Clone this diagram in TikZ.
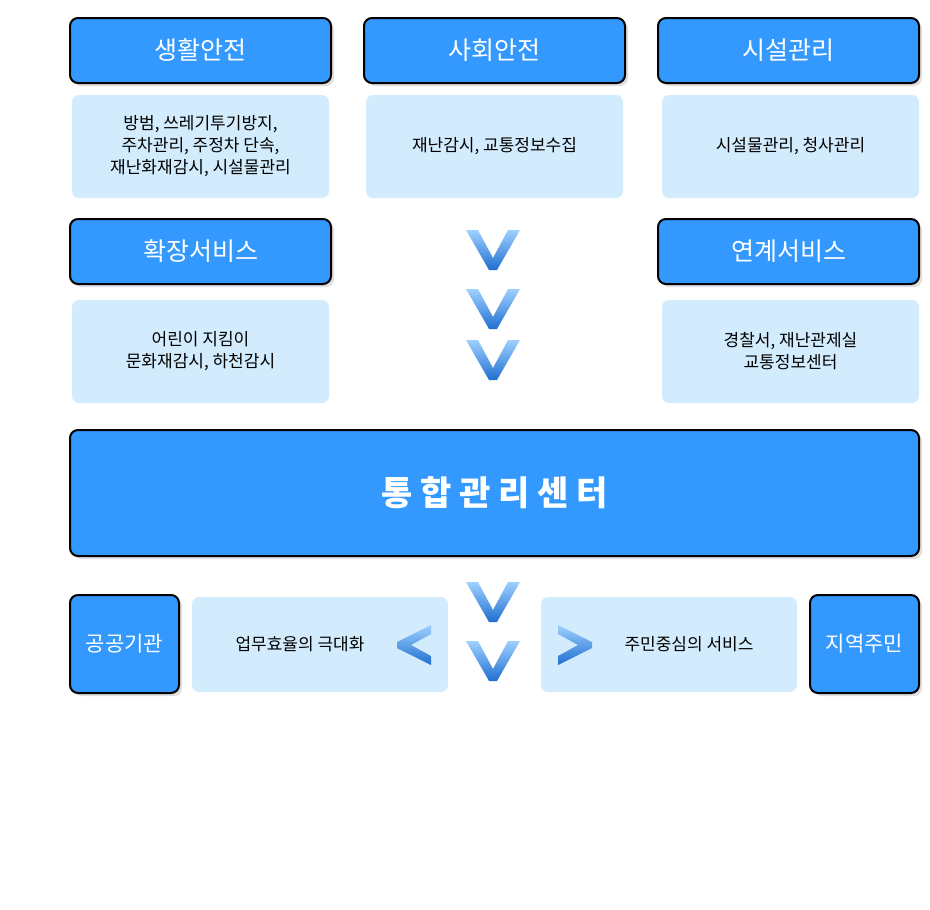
\documentclass[tikz,border=0pt]{standalone}
\usepackage{fontspec}
\setmainfont{Noto Sans CJK KR}
\usetikzlibrary{shadows}
\definecolor{btnblue}{HTML}{3399FF}
\definecolor{paleblue}{HTML}{D2ECFD}
\definecolor{chevtop}{HTML}{9FD0FF}
\definecolor{chevbot}{HTML}{1F6FD0}
\tikzset{
  btn/.style={draw=black, line width=2pt, fill=btnblue, rounded corners=8pt,
    text=white, font=\fontsize{25}{28}\selectfont, drop shadow={shadow xshift=3pt, shadow yshift=-3pt, fill=gray!50},
    minimum width=261pt, minimum height=65pt},
  memo/.style={fill=paleblue, rounded corners=7pt, align=center,
    font=\fontsize{17}{22}\selectfont, minimum width=257pt, minimum height=103pt},
  chev/.style={top color=chevtop, bottom color=chevbot, draw=none}
}
\newcommand\chevdown[1]{\path[chev] (#1) ++(-27,-20) -- ++(12,0) -- ++(15,28) -- ++(15,-28) -- ++(12,0) -- ++(-23,40) -- ++(-8,0) -- cycle;}
\begin{document}
\begin{tikzpicture}[x=1pt,y=-1pt]
\useasboundingbox (0,0) rectangle (930,910);
\node[btn] (life) at (200.5,50.5) {생활안전};
\node[btn] (social) at (494.5,50.5) {사회안전};
\node[btn] (facil) at (788.5,50.5) {시설관리};
\node[memo] (lifememo) at (200.5,146.5) {방범, 쓰레기투기방지,\\주차관리, 주정차 단속,\\재난화재감시, 시설물관리};
\node[memo] (socialmemo) at (494.5,146.5) {재난감시, 교통정보수집};
\node[memo] (facilmemo) at (790.5,146.5) {시설물관리, 청사관리};
\node[btn] (ext) at (200.5,251.5) {확장서비스};
\node[btn] (link) at (788.5,251.5) {연계서비스};
\node[memo] (extmemo) at (200.5,351.5) {어린이 지킴이\\문화재감시, 하천감시};
\node[memo] (linkmemo) at (790.5,351.5) {경찰서, 재난관제실\\교통정보센터};
\foreach \yy in {250,309,360} {\coordinate (c) at (493,\yy); \chevdown{c}}
\node[btn, minimum width=849pt, minimum height=126pt, font=\fontsize{34}{38}\selectfont\bfseries] (center) at (494.5,493) {통 합 관 리 센 터};
\node[btn, minimum width=109pt, minimum height=98pt, font=\fontsize{21}{24}\selectfont] (public) at (124.5,644) {공공기관};
\node[btn, minimum width=109pt, minimum height=98pt, font=\fontsize{21}{24}\selectfont] (resident) at (864.5,644) {지역주민};
\node[memo, minimum width=256pt, minimum height=95pt] (work) at (320,644.5) {\hspace{-40pt}업무효율의 극대화};
\node[memo, minimum width=256pt, minimum height=95pt] (citizen) at (669,644.5) {\hspace{40pt}주민중심의 서비스};
\foreach \yy in {602,661} {\coordinate (c) at (493,\yy); \chevdown{c}}
\path[chev] (431,625) -- ++(0,9) -- ++(-20,11) -- ++(20,11) -- ++(0,9) -- ++(-34,-17) -- ++(0,-6) -- cycle;
\path[chev] (558,625) -- ++(0,9) -- ++(20,11) -- ++(-20,11) -- ++(0,9) -- ++(34,-17) -- ++(0,-6) -- cycle;
\end{tikzpicture}
\end{document}
